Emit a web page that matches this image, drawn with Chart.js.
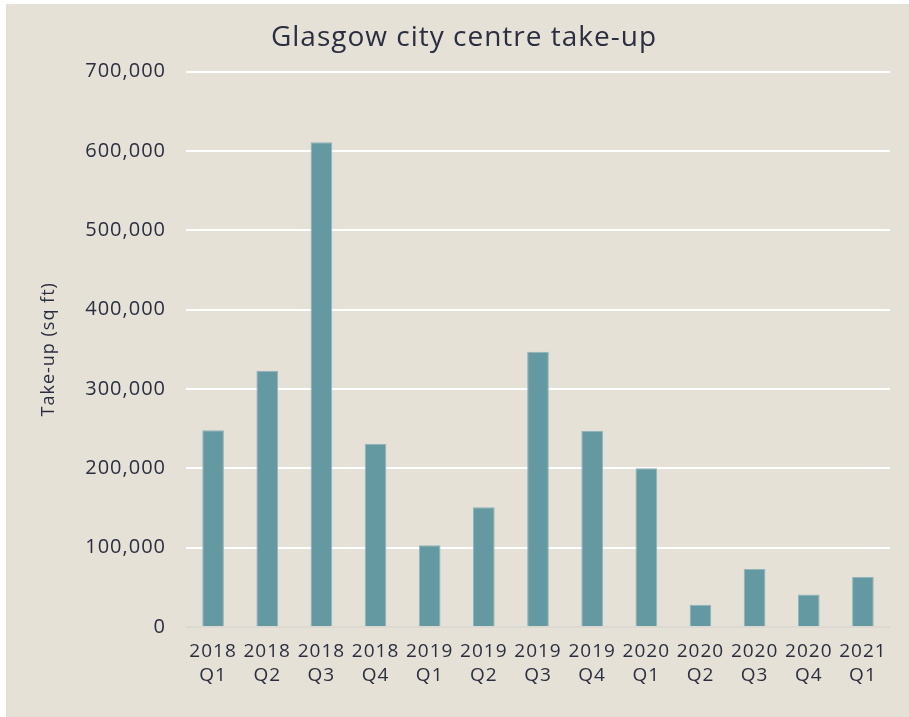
<!DOCTYPE html>
<html>
<head>
<meta charset="utf-8">
<script src="https://cdn.jsdelivr.net/npm/chart.js@4/dist/chart.umd.min.js"></script>
<style>
  html, body { margin: 0; padding: 0; background: #ffffff; }
  #wrap { position: absolute; left: 6px; top: 4px; width: 903px; height: 713px; background: #e5e1d6; }
  canvas { display: block; }
</style>
</head>
<body>
<div id="wrap"><canvas id="c" width="903" height="713"></canvas></div>
<script>
const categories = [
  ["2018","Q1"],["2018","Q2"],["2018","Q3"],["2018","Q4"],
  ["2019","Q1"],["2019","Q2"],["2019","Q3"],["2019","Q4"],
  ["2020","Q1"],["2020","Q2"],["2020","Q3"],["2020","Q4"],
  ["2021","Q1"]
];
const takeUp = [248000, 323000, 611000, 231000, 103000, 151000, 347000, 247000, 200000, 28000, 73000, 41000, 63000];
const yTicks = [0, 100000, 200000, 300000, 400000, 500000, 600000, 700000];
const chartTitle = "Glasgow city centre take-up";
const yTitle = "Take-up (sq ft)";

const FONT = "'Open Sans', 'DejaVu Sans', sans-serif";
const TEXT = "#2b2e40";

const letterSpacingPlugin = {
  id: 'letterSpacing',
  beforeInit(c) { c.ctx.letterSpacing = '1px'; },
  beforeLayout(c) { c.ctx.letterSpacing = '1px'; },
  afterLayout(c) { if (c.titleBlock) { c.titleBlock.left += 32; } },
  beforeDraw(c) { c.ctx.letterSpacing = '1px'; }
};

new Chart(document.getElementById('c'), {
  type: 'bar',
  plugins: [letterSpacingPlugin],
  data: {
    labels: categories,
    datasets: [{
      data: takeUp,
      backgroundColor: '#6599a2',
      borderColor: '#8fb4ba',
      borderWidth: 1,
      barPercentage: 0.4,
      categoryPercentage: 1.0
    }]
  },
  options: {
    responsive: false,
    animation: false,
    layout: { padding: { left: 0, right: 19, top: 0, bottom: 0 } },
    plugins: {
      legend: { display: false },
      tooltip: { enabled: false },
      title: {
        display: true,
        text: chartTitle,
        color: TEXT,
        font: { family: FONT, size: 28, weight: 'normal', lineHeight: 1.2 },
        padding: { top: 17, bottom: 17 }
      }
    },
    scales: {
      x: {
        grid: { display: false },
        border: { display: false },
        ticks: {
          color: TEXT,
          font: { family: FONT, size: 19, lineHeight: 1.26 },
          maxRotation: 0,
          autoSkip: false,
          padding: 5
        },
        afterFit: (s) => { s.height = 90; }
      },
      y: {
        min: 0,
        max: 700000,
        afterBuildTicks: (s) => { s.ticks = yTicks.map(v => ({ value: v })); },
        grid: {
          color: (ctx) => ctx.tick && ctx.tick.value === 0 ? '#dcd9d2' : '#ffffff',
          lineWidth: 2,
          drawTicks: false
        },
        border: { display: false },
        ticks: {
          color: TEXT,
          font: { family: FONT, size: 20 },
          padding: 20,
          callback: (v) => v.toLocaleString('en-GB')
        },
        title: {
          display: true,
          text: yTitle,
          color: TEXT,
          font: { family: FONT, size: 18, weight: 'normal', lineHeight: 1.2 },
          padding: { top: 32, bottom: 0 }
        },
        afterFit: (s) => { s.width = 180; }
      }
    }
  }
});
</script>
</body>
</html>
